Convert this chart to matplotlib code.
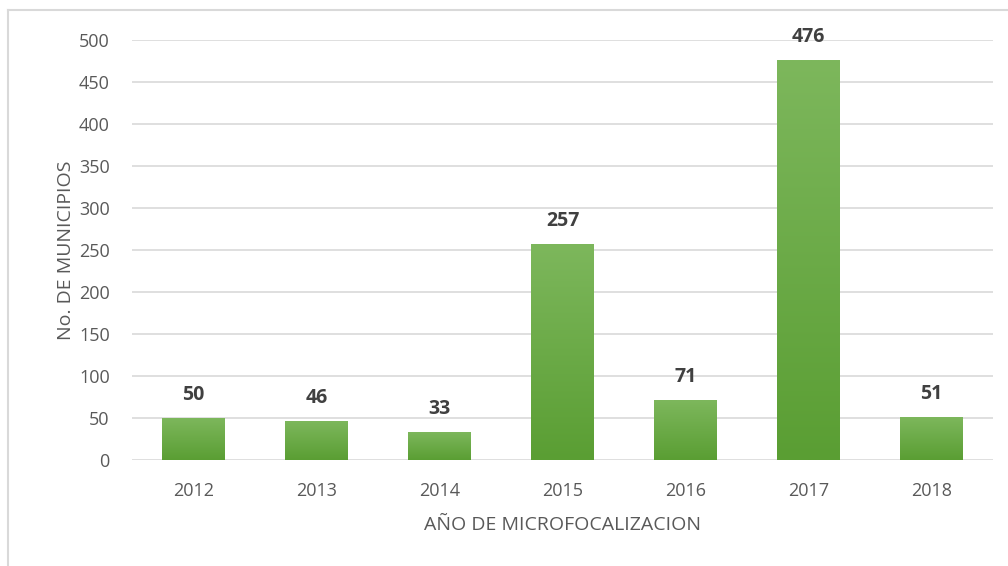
import numpy as np
import matplotlib
matplotlib.use("Agg")
import matplotlib.pyplot as plt
from matplotlib.colors import LinearSegmentedColormap
from matplotlib.lines import Line2D

years = ["2012", "2013", "2014", "2015", "2016", "2017", "2018"]
municipios = [50, 46, 33, 257, 71, 476, 51]
y_ticks = [0, 50, 100, 150, 200, 250, 300, 350, 400, 450, 500]

plt.rcParams['font.family'] = ['Open Sans', 'DejaVu Sans']

fig = plt.figure(figsize=(10.08, 5.66), dpi=100)
ax = fig.add_axes([132/1008, 1 - 460/566, (993 - 132)/1008, 420/566])

x = np.arange(len(years))
bars = ax.bar(x, municipios, width=0.51, color="none", zorder=3)

# vertical green gradient in each bar
cmap = LinearSegmentedColormap.from_list("g", ["#5a9e33", "#7db75c"])
grad = np.linspace(0, 1, 256).reshape(-1, 1)
for b in bars:
    x0, w, h = b.get_x(), b.get_width(), b.get_height()
    im = ax.imshow(grad, cmap=cmap, aspect="auto", origin="lower",
                   extent=[x0, x0 + w, 0, h], zorder=3)
    im.set_clip_path(b)

for xi, v in zip(x, municipios):
    ax.text(xi, v + 16, str(v), ha="center", va="bottom", fontsize=14,
            fontweight="bold", color="#404040")

ax.set_xlim(-0.5, len(years) - 0.5)
ax.set_ylim(0, 500)
ax.set_yticks(y_ticks)
ax.set_xticks(x)
ax.set_xticklabels(years)
ax.grid(axis="y", color="#d9d9d9", linewidth=1.2, zorder=0)
ax.set_axisbelow(True)
for s in ax.spines.values():
    s.set_visible(False)
ax.tick_params(length=0, labelsize=13, labelcolor="#595959")
ax.tick_params(axis="y", pad=16)
ax.tick_params(axis="x", pad=16)

ax.set_ylabel("No. DE MUNICIPIOS", fontsize=14, color="#595959", labelpad=3)
ax.set_xlabel("AÑO DE MICROFOCALIZACION", fontsize=14, color="#595959", labelpad=11)

# chart frame (left and top edges visible)
fig.add_artist(Line2D([8/1008, 8/1008], [0, 1 - 10/566], color="#d9d9d9",
                      linewidth=1.5, transform=fig.transFigure))
fig.add_artist(Line2D([8/1008, 1], [1 - 10/566, 1 - 10/566], color="#d9d9d9",
                      linewidth=1.5, transform=fig.transFigure))

fig.savefig("out.png", dpi=100)
